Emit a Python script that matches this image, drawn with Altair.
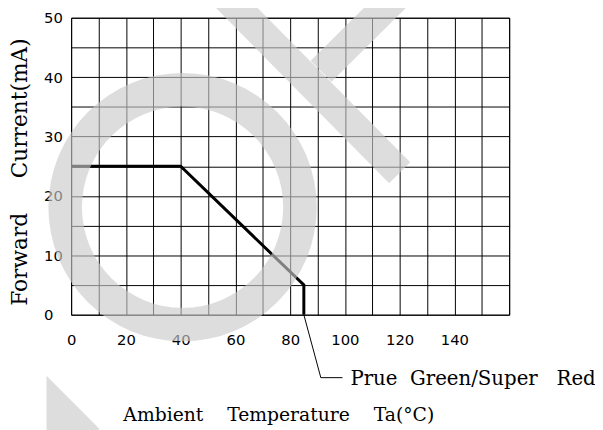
import altair as alt
import pandas as pd

# ---- data ----
temp_c = [0, 40, 85, 85]
current_ma = [25, 25, 5, 0]

x_ticks = [0, 10, 20, 30, 40, 50, 60, 70, 80, 90, 100, 110, 120, 130, 140, 150, 160]
y_ticks = [0, 5, 10, 15, 20, 25, 30, 35, 40, 45, 50]

series_label = "Prue\u00a0\u00a0Green/Super\u00a0\u00a0\u00a0Red"
leader_x = [85, 91.2, 99.1]
leader_y = [0, -10.6, -10.6]
label_x = [102]
label_y = [-11.8]

# watermark shapes (in data units)
ring_x = [40.7]
ring_y = [18.1]
stroke_a_x = [55.9, 120.0]
stroke_a_y = [53.8, 23.9]
stroke_b_x = [119.3, 91.3]
stroke_b_y = [53.8, 41.0]
stroke_c_x = [-9.0, 10.1]
stroke_c_y = [-10.3, -19.1]
stroke_c_y2 = [-21.0, -21.0]

X_TITLE = "Ambient\u00a0\u00a0\u00a0\u00a0Temperature\u00a0\u00a0\u00a0\u00a0Ta(\u00b0C)"
Y_TITLE = "Forward\u00a0\u00a0\u00a0\u00a0\u00a0Current(mA)"

xs = alt.Scale(domain=[0, 160], nice=False, zero=False)
ys = alt.Scale(domain=[0, 50], nice=False, zero=False)

x_axis = alt.Axis(
    values=x_ticks, grid=True, gridColor="#000000", gridWidth=1,
    ticks=False, tickSize=0, domain=False, labelFlush=False, labelOverlap=False,
    labelExpr="datum.value % 20 == 0 && datum.value <= 140 ? (datum.value >= 100 ? '\u00a0\u00a0' + datum.label : datum.label) : ''",
    labelFont="DejaVu Sans", labelFontSize=15, labelColor="#000000", labelPadding=18,
    title=X_TITLE, titleFont="DejaVu Serif", titleFontSize=19, titleFontWeight="normal",
    titleColor="#000000", titleX=210, titleY=107, titleAlign="center",
    titleBaseline="alphabetic", titleAnchor="middle",
)
y_axis = alt.Axis(
    values=y_ticks, grid=True, gridColor="#000000", gridWidth=1,
    ticks=False, tickSize=0, domain=False, labelFlush=False, labelOverlap=False,
    labelExpr="datum.value % 10 == 0 ? datum.label : ''",
    labelFont="DejaVu Sans", labelFontSize=15, labelColor="#000000",
    labelAlign="left", labelBaseline="middle", labelPadding=28,
    title=Y_TITLE, titleFont="DejaVu Serif", titleFontSize=22, titleFontWeight="normal",
    titleColor="#000000", titleAngle=270, titleX=-45, titleY=156, titleAlign="center",
    titleBaseline="alphabetic", titleAnchor="middle",
)


def pos():
    return dict(
        x=alt.X("x:Q", scale=xs, axis=x_axis),
        y=alt.Y("y:Q", scale=ys, axis=y_axis),
    )


curve_df = pd.DataFrame({"x": temp_c, "y": current_ma, "o": list(range(len(temp_c)))})
leader_df = pd.DataFrame({"x": leader_x, "y": leader_y, "o": list(range(len(leader_x)))})
label_df = pd.DataFrame({"x": label_x, "y": label_y, "t": [series_label]})
ring_df = pd.DataFrame({"x": ring_x, "y": ring_y})
a_df = pd.DataFrame({"x": stroke_a_x, "y": stroke_a_y, "o": [0, 1]})
b_df = pd.DataFrame({"x": stroke_b_x, "y": stroke_b_y, "o": [0, 1]})
c_df = pd.DataFrame({"x": stroke_c_x, "y": stroke_c_y, "y2": stroke_c_y2})

curve = alt.Chart(curve_df).mark_line(color="#000000", strokeWidth=3, strokeJoin="miter").encode(
    order="o:O", **pos()
)
leader = alt.Chart(leader_df).mark_line(color="#000000", strokeWidth=1).encode(
    order="o:O", **pos()
)
label = alt.Chart(label_df).mark_text(
    align="left", baseline="alphabetic", font="DejaVu Serif", fontSize=20, color="#000000"
).encode(text="t:N", **pos())

WM_COLOR = "#c9c9c9"
WM_OP = 0.635
ring = alt.Chart(ring_df).mark_arc(
    theta=0, theta2=6.2832, innerRadius=102, outerRadius=136,
    color=WM_COLOR, opacity=WM_OP,
).encode(**pos())
stroke_a = alt.Chart(a_df).mark_line(color=WM_COLOR, opacity=WM_OP, strokeWidth=30, strokeCap="butt").encode(
    order="o:O", **pos()
)
stroke_b = alt.Chart(b_df).mark_line(color=WM_COLOR, opacity=WM_OP, strokeWidth=30, strokeCap="butt").encode(
    order="o:O", **pos()
)
stroke_c = alt.Chart(c_df).mark_area(color=WM_COLOR, opacity=WM_OP).encode(
    y2="y2:Q", **pos()
)

chart = alt.layer(curve, leader, label, ring, stroke_a, stroke_b, stroke_c).properties(
    width=444, height=301,
    padding={"left": 64, "top": 7, "right": 87, "bottom": 114},
    autosize=alt.AutoSizeParams(type="none"),
    background="#ffffff",
).configure_view(stroke="#000000", strokeWidth=1)

chart.save("out.html", embed_options={"renderer": "svg", "actions": False})
